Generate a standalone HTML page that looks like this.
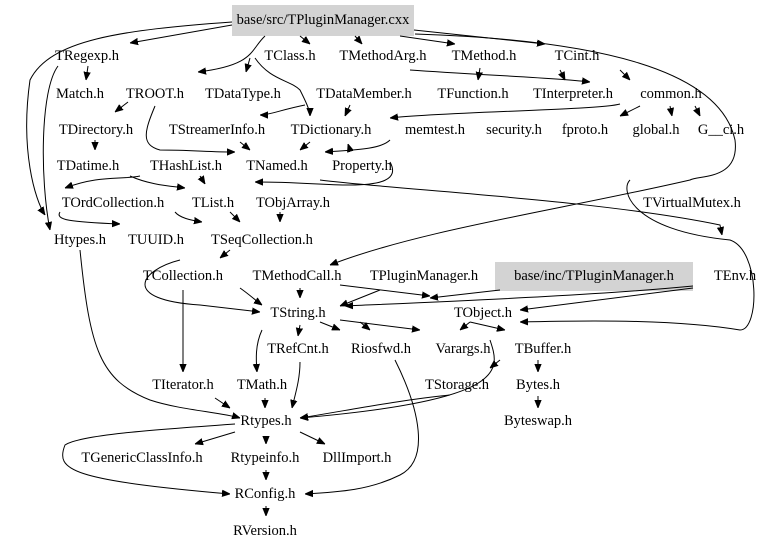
<!DOCTYPE html>
<html><head><meta charset="utf-8"><style>
html,body{margin:0;padding:0;background:#fff;}
svg{display:block;}
text{font-family:"Liberation Serif",serif;font-size:14.5px;fill:#000;text-anchor:middle;dominant-baseline:central;}
path{fill:none;stroke:#000;stroke-width:1;}
</style></head><body>
<svg width="779" height="550" viewBox="0 0 779 550" xmlns="http://www.w3.org/2000/svg">
<defs><marker id="a" viewBox="0 0 10 10" refX="10" refY="5" markerWidth="8" markerHeight="8" orient="auto-start-reverse" markerUnits="userSpaceOnUse"><path d="M0,1 L10,5 L0,9 z" style="fill:#000;stroke:#000"/></marker></defs>
<rect x="232" y="5" width="182" height="31" fill="#d3d3d3"/>
<rect x="495" y="262" width="198" height="29" fill="#d3d3d3"/>
<g marker-end="url(#a)">
<path d="M232,25 L130,43"/>
<path d="M232,22 C120,30 50,40 30,80 C20,150 35,200 45,215"/>
<path d="M300,36 L310,44"/>
<path d="M355,36 L362,44"/>
<path d="M400,36 L455,44"/>
<path d="M414,30 L545,44"/>
<path d="M265,36 C250,50 255,65 198,72"/>
<path d="M250,58 L246,72"/>
<path d="M415,34 C600,40 720,70 735,140 C740,180 700,175 690,180 C560,210 420,230 330,265"/>
<path d="M88,66 L86,80"/>
<path d="M128,102 L115,112"/>
<path d="M95,140 L95,150"/>
<path d="M58,66 C40,90 40,180 50,230"/>
<path d="M255,58 C270,80 290,80 300,90 C305,100 310,110 310,116"/>
<path d="M305,105 C280,110 270,115 260,115"/>
<path d="M350,105 L345,116"/>
<path d="M480,68 L478,80"/>
<path d="M410,70 C480,75 560,78 590,82"/>
<path d="M560,70 L565,80"/>
<path d="M620,70 L630,80"/>
<path d="M620,104 C600,110 440,112 390,118"/>
<path d="M640,106 L620,116"/>
<path d="M670,106 L672,116"/>
<path d="M695,106 L700,116"/>
<path d="M240,142 L250,150"/>
<path d="M310,142 L300,150"/>
<path d="M390,140 C380,150 350,150 325,152"/>
<path d="M350,150 L348,144"/>
<path d="M155,106 C145,130 140,145 160,150 C190,150 210,152 235,152"/>
<path d="M200,176 L205,184"/>
<path d="M130,176 C150,185 170,186 185,188"/>
<path d="M140,176 C120,180 100,175 65,188"/>
<path d="M390,162 C400,180 380,185 350,185 C320,185 300,182 255,182"/>
<path d="M320,180 C400,190 600,200 720,225 L722,235"/>
<path d="M230,212 L240,222"/>
<path d="M280,212 L280,222"/>
<path d="M175,212 C180,218 190,220 202,222"/>
<path d="M60,212 C55,220 70,222 120,224"/>
<path d="M230,250 L220,258"/>
<path d="M180,260 C140,270 120,300 200,305 L260,312"/>
<path d="M300,288 L300,298"/>
<path d="M240,288 C250,295 255,300 262,305"/>
<path d="M340,285 L430,296"/>
<path d="M500,290 L430,298"/>
<path d="M380,290 L340,306"/>
<path d="M693,288 L520,310"/>
<path d="M693,286 C600,295 480,300 345,306"/>
<path d="M630,180 C620,190 630,230 730,240 C760,250 760,330 740,330 C680,320 600,320 520,322"/>
<path d="M340,320 L420,330"/>
<path d="M360,322 L370,330"/>
<path d="M470,322 L460,330"/>
<path d="M470,322 L505,330"/>
<path d="M320,322 L340,330"/>
<path d="M300,325 L298,336"/>
<path d="M262,330 C255,345 256,360 257,372"/>
<path d="M183,290 L183,372"/>
<path d="M538,360 L538,372"/>
<path d="M538,396 L538,408"/>
<path d="M490,340 C500,370 510,400 300,418"/>
<path d="M500,360 L490,368"/>
<path d="M450,395 C400,400 350,410 300,418"/>
<path d="M80,250 C90,350 100,380 150,400 C180,410 220,412 240,418"/>
<path d="M215,398 L230,408"/>
<path d="M265,398 L265,408"/>
<path d="M300,362 C300,380 295,395 292,408"/>
<path d="M395,360 C420,410 430,460 400,475 C370,490 340,492 305,494"/>
<path d="M235,432 L195,444"/>
<path d="M266,436 L266,444"/>
<path d="M300,432 L325,444"/>
<path d="M235,424 C150,430 80,435 65,445 C55,470 70,480 230,494"/>
<path d="M266,470 L266,480"/>
<path d="M266,506 L266,516"/>
</g>
<text x="323" y="20">base/src/TPluginManager.cxx</text>
<text x="87" y="56">TRegexp.h</text>
<text x="290" y="56">TClass.h</text>
<text x="383" y="56">TMethodArg.h</text>
<text x="484" y="56">TMethod.h</text>
<text x="577" y="56">TCint.h</text>
<text x="80" y="94">Match.h</text>
<text x="155" y="94">TROOT.h</text>
<text x="243" y="94">TDataType.h</text>
<text x="364" y="94">TDataMember.h</text>
<text x="473" y="94">TFunction.h</text>
<text x="573" y="94">TInterpreter.h</text>
<text x="671" y="94">common.h</text>
<text x="96" y="130">TDirectory.h</text>
<text x="217" y="130">TStreamerInfo.h</text>
<text x="331" y="130">TDictionary.h</text>
<text x="435" y="130">memtest.h</text>
<text x="514" y="130">security.h</text>
<text x="585" y="130">fproto.h</text>
<text x="656" y="130">global.h</text>
<text x="721" y="130">G__ci.h</text>
<text x="88" y="166">TDatime.h</text>
<text x="186" y="166">THashList.h</text>
<text x="277" y="166">TNamed.h</text>
<text x="362" y="166">Property.h</text>
<text x="113" y="203">TOrdCollection.h</text>
<text x="213" y="203">TList.h</text>
<text x="293" y="203">TObjArray.h</text>
<text x="692" y="203">TVirtualMutex.h</text>
<text x="80" y="240">Htypes.h</text>
<text x="156" y="240">TUUID.h</text>
<text x="262" y="240">TSeqCollection.h</text>
<text x="183" y="276">TCollection.h</text>
<text x="297" y="276">TMethodCall.h</text>
<text x="424" y="276">TPluginManager.h</text>
<text x="594" y="276">base/inc/TPluginManager.h</text>
<text x="735" y="276">TEnv.h</text>
<text x="298" y="313">TString.h</text>
<text x="483" y="313">TObject.h</text>
<text x="298" y="349">TRefCnt.h</text>
<text x="381" y="349">Riosfwd.h</text>
<text x="463" y="349">Varargs.h</text>
<text x="543" y="349">TBuffer.h</text>
<text x="183" y="385">TIterator.h</text>
<text x="262" y="385">TMath.h</text>
<text x="457" y="385">TStorage.h</text>
<text x="538" y="385">Bytes.h</text>
<text x="266" y="421">Rtypes.h</text>
<text x="538" y="421">Byteswap.h</text>
<text x="142" y="458">TGenericClassInfo.h</text>
<text x="265" y="458">Rtypeinfo.h</text>
<text x="357" y="458">DllImport.h</text>
<text x="265" y="494">RConfig.h</text>
<text x="265" y="531">RVersion.h</text>
</svg>
</body></html>
